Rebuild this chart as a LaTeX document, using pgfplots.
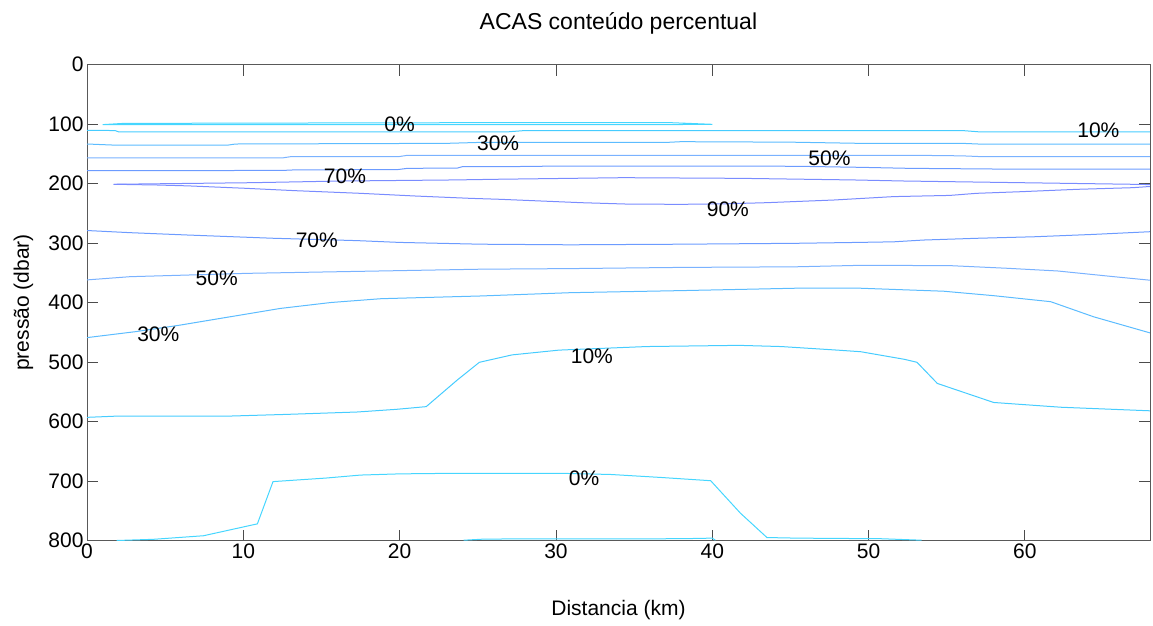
\documentclass[border=0pt]{standalone}
\usepackage{pgfplots}
\pgfplotsset{compat=1.18}
\usepackage{fontspec}
\setmainfont{Liberation Sans}
\definecolor{c0}{RGB}{70,214,255}
\definecolor{c10}{RGB}{70,204,255}
\definecolor{c30}{RGB}{92,188,255}
\definecolor{c50}{RGB}{122,178,255}
\definecolor{c70}{RGB}{108,155,255}
\definecolor{c90}{RGB}{122,140,255}
\begin{document}
\begin{tikzpicture}[font=\fontsize{21}{25}\selectfont]
\useasboundingbox (0,0) rectangle (1153pt,625pt);
\begin{axis}[
  at={(87pt,84.5pt)}, anchor=south west,
  scale only axis, width=1063pt, height=476pt,
  xmin=0, xmax=68, ymin=0, ymax=800, y dir=reverse,
  xtick={0,10,...,60}, ytick={0,100,...,800},
  tick align=inside, major tick length=11pt,
  axis line style={draw=black!65, line width=0.8pt},
  major tick style={draw=black!70, line width=0.8pt},
  /pgf/number format/assume math mode=true,
  /pgf/number format/1000 sep={},
  title={ACAS conteúdo percentual},
  title style={at={(axis description cs:0.5,1.062)}, anchor=base, inner sep=0pt, font=\fontsize{23}{27}\selectfont},
  xlabel={Distancia (km)},
  xlabel style={at={(axis description cs:0.5,-0.1565)}, anchor=base, inner sep=0pt},
  ylabel={pressão (dbar)},
  ylabel style={at={(axis description cs:-0.0546,0.5)}, anchor=base, rotate=0, inner sep=0pt},
  every axis plot/.append style={line width=1pt, mark=none},
  clip=true,
]
% 0% upper loop
\addplot[c0] coordinates {(1.0,101) (2.3,99) (10,98.5) (20,98) (30,97.5) (37.1,97.5) (40,100.5) (37,101) (30,101.2) (20,101.2) (10,101.2) (1.0,101)};
% 10% upper
\addplot[c10] coordinates {(0,110.5) (1.8,111) (2,113) (27,113) (28,111) (56,111) (57,113) (68,113)};
% 30% upper
\addplot[c30] coordinates {(0,133.6) (1.8,135.5) (9,135.5) (9.5,133.6) (23,132.5) (25,131) (37,131) (38,129.7) (45,130.5) (49.5,132.5) (56,132.5) (57,133.6) (68,133.6)};
% 50% upper
\addplot[c50] coordinates {(0,157) (12.5,157) (13,155) (19.9,155) (20.5,152.6) (53,152.6) (56,153.5) (57,154.6) (68,154.6)};
% 70% upper
\addplot[c70] coordinates {(0,178.5) (12.6,178) (13,177.3) (19.9,176.5) (20.5,174.5) (23.7,174) (24,171.8) (26.4,171.8) (30.4,170.6) (45.3,171) (49.5,172.8) (52.6,174.5) (59.8,176) (68,176)};
% 90% upper branch
\addplot[c90] coordinates {(1.7,201.3) (10.6,198.6) (16.3,195.8) (23.5,194) (26.4,192.8) (34.3,190.2) (41.8,191.3) (49,194) (52.3,195.8) (59.7,198.6) (66.9,201.3) (68,201.8)};
% 90% lower branch
\addplot[c90] coordinates {(1.7,201.3) (4.5,202.5) (6.5,204) (10.1,208) (13.3,212) (17.5,216.5) (21,221) (24.6,225) (26.4,226.5) (31.6,232.2) (34.5,234.5) (38,235) (41,234) (43.5,232.2) (47.8,227.7) (51.6,222) (55.2,220) (56.9,216.5) (59.7,213.8) (63.3,209.8) (66.9,207) (68,205)};
% 70% lower
\addplot[c70] coordinates {(0,279) (2.75,282.6) (6.38,286.5) (11.9,292) (17.3,296) (20,299) (25.2,302) (30.9,303) (38,302) (45.3,300.5) (49.3,299) (51.6,298) (53.5,295) (57,292) (60.6,289.5) (64.4,285.5) (68,281)};
% 50% lower
\addplot[c50] coordinates {(0,362) (2.75,356.6) (10.2,351) (16.6,348) (25.2,344) (30.9,343) (38,341) (45.3,340) (49.5,337.5) (55.2,338) (58.9,342.5) (62.1,347) (65.7,356.6) (68,362.5)};
% 30% lower
\addplot[c30] coordinates {(0,459) (3.1,449) (5.95,438) (9.15,424) (12.35,410) (15.6,400) (18.8,393.6) (25.2,389) (30.9,383.5) (38,380) (41.7,378) (45.3,376) (49.5,376) (51.6,378) (54.8,381) (58,388.5) (61.65,398.6) (64.4,424) (68,451)};
% 10% lower
\addplot[c10] coordinates {(0,593) (1.85,591) (8.94,591) (12.8,588) (17.3,584) (19.8,579.5) (21.7,575) (23.7,530) (25.1,500.5) (27.2,488) (30.2,480) (35.8,474) (41.7,472) (44.4,474) (48,480) (49.5,482.7) (52.3,495.5) (53.1,500.5) (54.4,536) (58,568) (62.3,576) (68,582)};
% 0% lower
\addplot[c0] coordinates {(1.89,800) (4.24,798) (7.45,792) (10.9,772) (11.9,701) (15.3,695) (17.5,690) (20,688) (23.6,687) (30.2,687) (33.5,689) (36.7,694) (39.9,699.5) (41.8,754) (43.5,795) (45.4,796) (50.8,797) (53.4,799.5)};
\addplot[c0] coordinates {(24.1,799.5) (25.5,797.5) (38,797) (40,796) (40.2,799.5)};
% labels
\node at (axis cs:20.0,100.8) {0\%};
\node at (axis cs:26.3,132) {30\%};
\node at (axis cs:16.5,188) {70\%};
\node at (axis cs:64.7,111) {10\%};
\node at (axis cs:47.5,158) {50\%};
\node at (axis cs:41.0,243) {90\%};
\node at (axis cs:14.7,295) {70\%};
\node at (axis cs:8.3,359) {50\%};
\node at (axis cs:4.56,453) {30\%};
\node at (axis cs:32.3,490) {10\%};
\node at (axis cs:31.8,696) {0\%};
\end{axis}
\end{tikzpicture}
\end{document}
